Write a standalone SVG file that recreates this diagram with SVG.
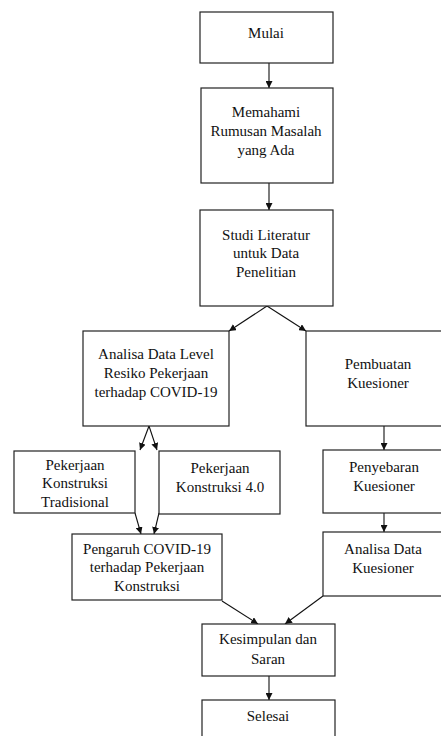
<svg xmlns="http://www.w3.org/2000/svg" width="441" height="736" viewBox="0 0 441 736">
<style>
.box{fill:#fff;stroke:#222;stroke-width:1.2}
.t{font-family:"Liberation Serif","Times New Roman",serif;font-size:15px;fill:#111;text-anchor:middle}
.c{stroke:#111;stroke-width:1.1;fill:none;marker-end:url(#ah)}
</style>
<defs>
<marker id="ah" viewBox="0 0 10 10" refX="10" refY="5" markerWidth="7" markerHeight="7" markerUnits="userSpaceOnUse" orient="auto">
<path d="M0,0 L10,5 L0,10 z" fill="#111"/>
</marker>
</defs>
<rect width="441" height="736" fill="#fff"/>
<g id="connectors">
<line class="c" x1="269" y1="63" x2="269" y2="88"/>
<line class="c" x1="269" y1="183" x2="269" y2="210"/>
<line class="c" x1="267" y1="306" x2="229" y2="331"/>
<line class="c" x1="267" y1="306" x2="306" y2="331"/>
<line class="c" x1="149" y1="426" x2="140" y2="450"/>
<line class="c" x1="149" y1="426" x2="157" y2="450"/>
<line class="c" x1="384" y1="426" x2="384" y2="450"/>
<line class="c" x1="135" y1="513" x2="141" y2="534"/>
<line class="c" x1="159" y1="513" x2="154" y2="534"/>
<line class="c" x1="384" y1="510" x2="384" y2="532"/>
<line class="c" x1="222" y1="601" x2="258" y2="624"/>
<line class="c" x1="323" y1="596" x2="285" y2="624"/>
<line class="c" x1="269" y1="676" x2="269" y2="700"/>
</g>
<g id="mulai"><rect class="box" x="200" y="12" width="133" height="51"/><text class="t" x="266" y="38">Mulai</text></g>
<g id="memahami"><rect class="box" x="201" y="88" width="132" height="95"/><text class="t" x="266" y="117">Memahami</text><text class="t" x="266" y="136">Rumusan Masalah</text><text class="t" x="266" y="155">yang Ada</text></g>
<g id="studi"><rect class="box" x="200" y="210" width="133" height="96"/><text class="t" x="266" y="240">Studi Literatur</text><text class="t" x="266" y="258">untuk Data</text><text class="t" x="266" y="277">Penelitian</text></g>
<g id="analisa-level"><rect class="box" x="83" y="331" width="146" height="95"/><text class="t" x="156" y="359">Analisa Data Level</text><text class="t" x="156" y="378">Resiko Pekerjaan</text><text class="t" x="156" y="397">terhadap COVID-19</text></g>
<g id="pembuatan"><rect class="box" x="306" y="331" width="140" height="95"/><text class="t" x="378" y="369">Pembuatan</text><text class="t" x="378" y="388">Kuesioner</text></g>
<g id="tradisional"><rect class="box" x="14" y="451" width="121" height="62"/><text class="t" x="75" y="470">Pekerjaan</text><text class="t" x="75" y="488">Konstruksi</text><text class="t" x="75" y="507">Tradisional</text></g>
<g id="konstruksi40"><rect class="box" x="159" y="451" width="121" height="63"/><text class="t" x="220" y="473">Pekerjaan</text><text class="t" x="220" y="492">Konstruksi 4.0</text></g>
<g id="penyebaran"><rect class="box" x="323" y="450" width="123" height="63"/><text class="t" x="384" y="472">Penyebaran</text><text class="t" x="384" y="491">Kuesioner</text></g>
<g id="pengaruh"><rect class="box" x="72" y="534" width="150" height="66"/><text class="t" x="147" y="554">Pengaruh COVID-19</text><text class="t" x="147" y="572">terhadap Pekerjaan</text><text class="t" x="147" y="591">Konstruksi</text></g>
<g id="analisa-kuesioner"><rect class="box" x="323" y="532" width="123" height="64"/><text class="t" x="383" y="554">Analisa Data</text><text class="t" x="383" y="573">Kuesioner</text></g>
<g id="kesimpulan"><rect class="box" x="202" y="624" width="133" height="52"/><text class="t" x="268" y="644">Kesimpulan dan</text><text class="t" x="268" y="664">Saran</text></g>
<g id="selesai"><rect class="box" x="202" y="700" width="133" height="45"/><text class="t" x="268" y="721">Selesai</text></g>
</svg>
